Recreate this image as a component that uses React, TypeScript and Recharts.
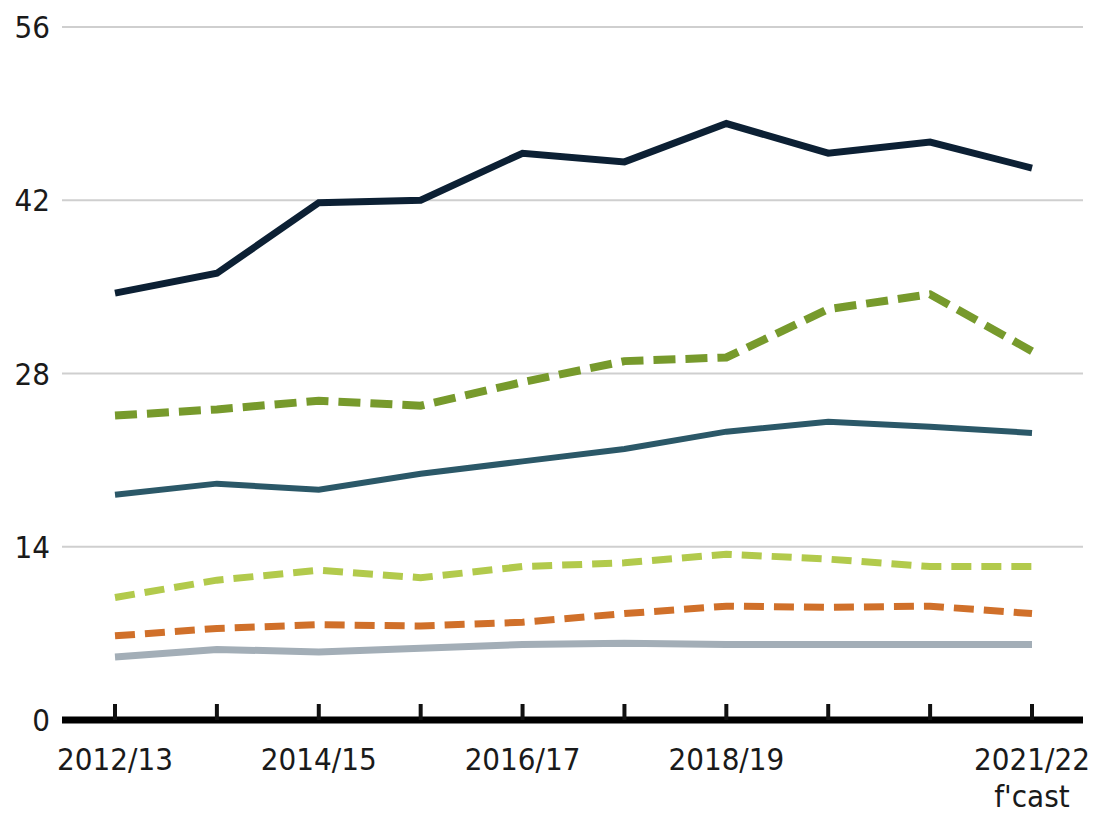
import { LineChart, Line, XAxis, YAxis, CartesianGrid } from 'recharts';

const YEARS = ['2012/13', '2013/14', '2014/15', '2015/16', '2016/17', '2017/18', '2018/19', '2019/20', '2020/21', '2021/22'];
const NAVY = [34.5, 36.1, 41.8, 42.0, 45.8, 45.1, 48.2, 45.8, 46.7, 44.6];
const GREEN = [24.6, 25.1, 25.8, 25.4, 27.3, 29.0, 29.3, 33.2, 34.4, 29.8];
const TEAL = [18.2, 19.1, 18.6, 19.9, 20.9, 21.9, 23.3, 24.1, 23.7, 23.2];
const LIGHT_GREEN = [9.9, 11.3, 12.1, 11.5, 12.4, 12.7, 13.4, 13.0, 12.4, 12.4];
const ORANGE = [6.8, 7.4, 7.7, 7.6, 7.9, 8.6, 9.2, 9.1, 9.2, 8.6];
const GREY = [5.1, 5.7, 5.5, 5.8, 6.1, 6.2, 6.1, 6.1, 6.1, 6.1];
const Y_TICKS = [0, 14, 28, 42, 56];
// only some years get a label, the last one is a forecast
const X_LABELS: Record<string, string[]> = {
    '2012/13': ['2012/13'],
    '2014/15': ['2014/15'],
    '2016/17': ['2016/17'],
    '2018/19': ['2018/19'],
    '2021/22': ['2021/22', "f'cast"],
};

const FONT = "'Liberation Sans Narrow', 'DejaVu Sans Condensed', sans-serif";

const data = YEARS.map((year, i) => ({
    year,
    navy: NAVY[i],
    green: GREEN[i],
    teal: TEAL[i],
    lightGreen: LIGHT_GREEN[i],
    orange: ORANGE[i],
    grey: GREY[i],
}));

function YearTick({ x, y, payload }: any) {
    const lines = X_LABELS[payload.value] || [];
    return (
        <g>
            <line x1={x} x2={x} y1={y - 16} y2={y} stroke="#111" strokeWidth={4} />
            {lines.map((t, i) => (
                <text
                    key={t}
                    x={x}
                    y={y + 50 + i * 37}
                    textAnchor="middle"
                    fill="#1a1a1a"
                    fontSize={31}
                    fontFamily={FONT}
                >
                    {t}
                </text>
            ))}
        </g>
    );
}

export default function App() {
    return (
        <div style={{ position: 'absolute', left: 0, top: 0, background: '#fff' }}>
            <LineChart width={1094} height={818} data={data} margin={{ top: 27, right: 11, bottom: 0, left: 0 }}>
                <CartesianGrid vertical={false} stroke="#cfcfcf" strokeWidth={2} />
                <XAxis
                    dataKey="year"
                    interval={0}
                    height={98}
                    padding={{ left: 53, right: 51 }}
                    tickSize={0}
                    tickMargin={0}
                    tickLine={false}
                    axisLine={{ stroke: '#000', strokeWidth: 7 }}
                    tick={<YearTick />}
                />
                <YAxis
                    domain={[0, 56]}
                    ticks={Y_TICKS}
                    width={62}
                    axisLine={false}
                    tickLine={false}
                    tickSize={0}
                    tickMargin={12}
                    tick={{ fill: '#1a1a1a', fontSize: 31, fontFamily: FONT }}
                />
                <Line dataKey="grey" stroke="#a3aeb7" strokeWidth={7} dot={false} isAnimationActive={false} />
                <Line dataKey="orange" stroke="#d0702a" strokeWidth={7} strokeDasharray="20 10" dot={false} isAnimationActive={false} />
                <Line dataKey="lightGreen" stroke="#b2ca4c" strokeWidth={7} strokeDasharray="20 10" dot={false} isAnimationActive={false} />
                <Line dataKey="teal" stroke="#2b5868" strokeWidth={6} dot={false} isAnimationActive={false} />
                <Line dataKey="green" stroke="#779a2c" strokeWidth={8} strokeDasharray="22 10" dot={false} isAnimationActive={false} />
                <Line dataKey="navy" stroke="#0c2034" strokeWidth={7} dot={false} isAnimationActive={false} />
            </LineChart>
        </div>
    );
}
